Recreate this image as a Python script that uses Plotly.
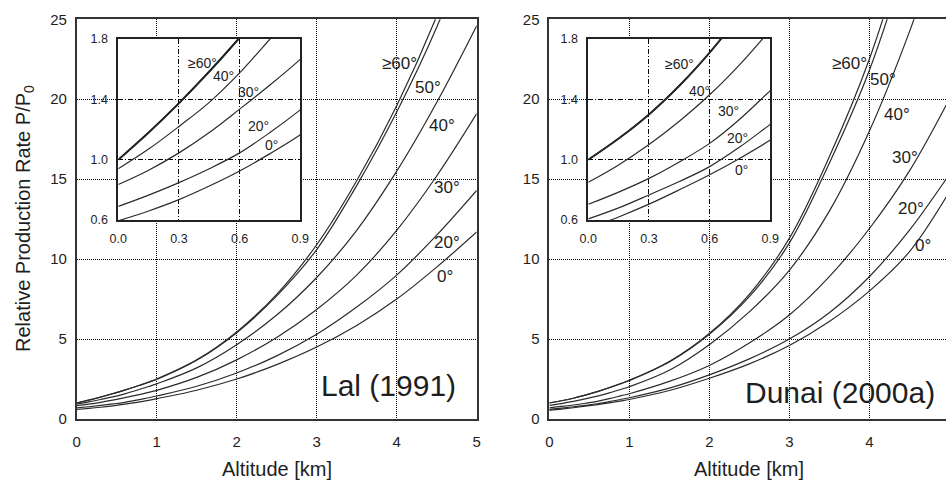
import plotly.graph_objects as go

# ---------------- data ----------------
ALT = [0, 0.15, 0.3, 0.45, 0.6, 0.75, 0.9, 1.0, 1.5, 2.0, 2.5, 3.0, 3.5, 4.0, 4.5, 5.0]

LAT_LABELS = ["≥60°", "50°", "40°", "30°", "20°", "0°"]

LAL_60 = [1.0, 1.18, 1.375, 1.585, 1.81, 2.05, 2.31, 2.5, 3.7, 5.45, 7.8, 10.9, 14.9, 19.6, 25.2, 32.0]
LAL_50 = [1.0, 1.178, 1.372, 1.58, 1.805, 2.045, 2.30, 2.48, 3.67, 5.4, 7.7, 10.6, 14.6, 19.2, 24.5, 31.0]
LAL_40 = [0.94, 1.07, 1.22, 1.38, 1.575, 1.8, 2.03, 2.2, 3.2, 4.65, 6.5, 8.85, 11.8, 15.5, 19.8, 24.6]
LAL_30 = [0.835, 0.93, 1.045, 1.18, 1.335, 1.495, 1.665, 1.79, 2.6, 3.7, 5.1, 6.85, 9.0, 11.8, 15.2, 19.1]
LAL_20 = [0.69, 0.765, 0.848, 0.94, 1.045, 1.18, 1.33, 1.44, 2.05, 2.88, 3.95, 5.3, 7.0, 9.0, 11.5, 14.3]
LAL_0 = [0.595, 0.66, 0.735, 0.825, 0.925, 1.04, 1.165, 1.27, 1.8, 2.5, 3.4, 4.5, 5.85, 7.5, 9.5, 11.7]

DUN_60 = [1.0, 1.14, 1.30, 1.49, 1.71, 1.96, 2.23, 2.42, 3.6, 5.35, 7.8, 11.3, 16.4, 22.5, 30.5, 40.0]
DUN_50 = [1.0, 1.14, 1.30, 1.49, 1.71, 1.955, 2.22, 2.41, 3.57, 5.3, 7.65, 11.0, 16.0, 21.8, 29.5, 39.0]
DUN_40 = [0.85, 0.965, 1.10, 1.255, 1.43, 1.632, 1.86, 2.02, 3.05, 4.65, 6.7, 9.3, 13.0, 18.0, 24.2, 31.5]
DUN_30 = [0.704, 0.785, 0.876, 0.985, 1.108, 1.27, 1.458, 1.58, 2.35, 3.35, 4.75, 6.5, 8.9, 11.9, 15.5, 20.0]
DUN_20 = [0.607, 0.68, 0.766, 0.855, 0.954, 1.085, 1.234, 1.33, 1.93, 2.76, 3.76, 5.0, 6.65, 8.9, 11.8, 15.3]
DUN_0 = [0.545, 0.62, 0.705, 0.80, 0.9, 1.01, 1.13, 1.22, 1.78, 2.55, 3.45, 4.6, 6.1, 8.0, 10.45, 14.2]

LAL = [LAL_60, LAL_50, LAL_40, LAL_30, LAL_20, LAL_0]
DUN = [DUN_60, DUN_50, DUN_40, DUN_30, DUN_20, DUN_0]

MAIN_X_TICKS = [0, 1, 2, 3, 4, 5]
MAIN_Y_TICKS = [0, 5, 10, 15, 20, 25]
INSET_X_TICKS = [0.0, 0.3, 0.6, 0.9]
INSET_Y_TICKS = [0.6, 1.0, 1.4, 1.8]

# ---------------- styling / layout ----------------
W, H = 946, 482
FONT = "Arial, Liberation Sans, sans-serif"
CURVE = "#2b2b2b"
TXT = "#1e1e1e"


def px(x, y):
    return x / W, 1 - y / H


fig = go.Figure()

for vals in LAL:
    fig.add_trace(go.Scatter(x=ALT, y=vals, mode="lines", xaxis="x", yaxis="y",
                             line=dict(shape="spline", color=CURVE, width=1.2), hoverinfo="skip"))
for vals in DUN:
    fig.add_trace(go.Scatter(x=ALT, y=vals, mode="lines", xaxis="x2", yaxis="y2",
                             line=dict(shape="spline", color=CURVE, width=1.2), hoverinfo="skip"))
for i, vals in enumerate(LAL):
    fig.add_trace(go.Scatter(x=ALT, y=vals, mode="lines", xaxis="x3", yaxis="y3",
                             line=dict(shape="spline", color="#111" if i == 0 else CURVE,
                                       width=1.9 if i == 0 else 1.2), hoverinfo="skip"))
for i, vals in enumerate(DUN):
    fig.add_trace(go.Scatter(x=ALT, y=vals, mode="lines", xaxis="x4", yaxis="y4",
                             line=dict(shape="spline", color="#111" if i == 0 else CURVE,
                                       width=1.9 if i == 0 else 1.2), hoverinfo="skip"))

main_bottom = (H - 419) / H
main_top = (H - 19.3) / H
inset_bottom = (H - 220) / H
inset_top = (H - 39) / H

common_main = dict(showgrid=True, gridcolor="#000", griddash="1px,1px", gridwidth=1,
                   showline=True, linecolor="#333", linewidth=1.5, mirror=True, automargin=False,
                   ticks="", zeroline=False, tickfont=dict(family=FONT, size=15, color=TXT))
common_inset = dict(showgrid=True, gridcolor="#000", griddash="5px,2px,1px,2px", gridwidth=1,
                    showline=True, linecolor="#222", linewidth=1.8, mirror=True, automargin=False,
                    ticks="", zeroline=False, tickfont=dict(family=FONT, size=12.5, color=TXT))

fig.update_layout(
    width=W, height=H, autosize=False,
    margin=dict(l=0, r=0, t=0, b=0, pad=0, autoexpand=False),
    paper_bgcolor="white", plot_bgcolor="white", showlegend=False,
    font=dict(family=FONT, color=TXT),
    xaxis=dict(domain=[76.7 / W, 476.7 / W], range=[0, 5], tickvals=MAIN_X_TICKS,
               anchor="y", ticklabelstandoff=8, **common_main),
    yaxis=dict(domain=[main_bottom, main_top], range=[0, 25], tickvals=MAIN_Y_TICKS,
               anchor="x", ticklabelstandoff=5, **common_main),
    xaxis2=dict(domain=[549.3 / W, 1.0], range=[0, (W - 549.3) / 80.0], tickvals=MAIN_X_TICKS,
                anchor="y2", ticklabelstandoff=8, **common_main),
    yaxis2=dict(domain=[main_bottom, main_top], range=[0, 25], tickvals=MAIN_Y_TICKS,
                anchor="x2", ticklabelstandoff=5, **common_main),
    xaxis3=dict(domain=[118.3 / W, 300.3 / W], range=[0, 0.9], tickvals=INSET_X_TICKS,
                tickformat=".1f", anchor="y3", ticklabelstandoff=6, **common_inset),
    yaxis3=dict(domain=[inset_bottom, inset_top], range=[0.6, 1.8], tickvals=INSET_Y_TICKS,
                tickformat=".1f", anchor="x3", ticklabelstandoff=6, **common_inset),
    xaxis4=dict(domain=[588.3 / W, 770.3 / W], range=[0, 0.9], tickvals=INSET_X_TICKS,
                tickformat=".1f", anchor="y4", ticklabelstandoff=6, **common_inset),
    yaxis4=dict(domain=[inset_bottom, inset_top], range=[0.6, 1.8], tickvals=INSET_Y_TICKS,
                tickformat=".1f", anchor="x4", ticklabelstandoff=6, **common_inset),
)

ann = []


def add_text(text, x, y, size, angle=0):
    xx, yy = px(x, y)
    ann.append(dict(text=text, x=xx, y=yy, xref="paper", yref="paper", showarrow=False,
                    xanchor="center", yanchor="middle", textangle=angle,
                    font=dict(family=FONT, size=size, color=TXT)))


# axis titles
add_text("Relative Production Rate P/P<sub>0</sub>", 25, 219, 20, angle=-90)
add_text("Altitude [km]", 277, 469, 20)
add_text("Altitude [km]", 749, 469, 20)
# model names
add_text("Lal (1991)", 388, 385, 30)
add_text("Dunai (2000a)", 840, 392, 30)

# curve labels, main panels
left_main_pos = [(399, 64), (428, 87), (442, 126), (447, 188), (447, 242), (445, 276)]
right_main_pos = [(849, 64), (883, 80), (897, 114), (905, 158), (911, 208), (923, 246)]
for lab, p in zip(LAT_LABELS, left_main_pos):
    add_text(lab, p[0], p[1], 17)
for lab, p in zip(LAT_LABELS, right_main_pos):
    add_text(lab, p[0], p[1], 17)

# curve labels, insets (50° coincides with ≥60° there)
inset_labels = ["≥60°", "40°", "30°", "20°", "0°"]
left_inset_pos = [(202, 63), (223, 76), (249, 92), (258, 126), (271, 145)]
right_inset_pos = [(679, 64), (699, 91), (728, 111), (737, 138), (741, 170)]
for lab, p in zip(inset_labels, left_inset_pos):
    add_text(lab, p[0], p[1], 14)
for lab, p in zip(inset_labels, right_inset_pos):
    add_text(lab, p[0], p[1], 14)

fig.update_layout(annotations=ann)

fig.write_html(
    "out.html",
    config={"displayModeBar": False},
    post_script="document.body.style.margin='0';document.body.style.overflow='hidden';"
                "document.documentElement.style.overflow='hidden';",
)
